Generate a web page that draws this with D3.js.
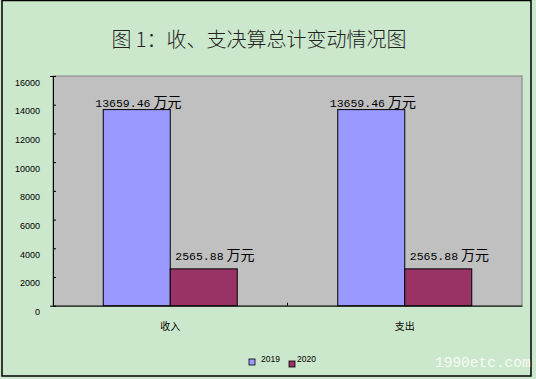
<!DOCTYPE html>
<html><head><meta charset="utf-8">
<script src="https://cdn.jsdelivr.net/npm/d3@7"></script>
<style>html,body{margin:0;padding:0;background:#CCE8CC;}svg{display:block;}</style>
</head><body>
<script>
const categories = ["收入", "支出"];
const seriesNames = ["2019", "2020"];
const values2019 = [13659.46, 13659.46];
const values2020 = [2565.88, 2565.88];
const yTicks = [0, 2000, 4000, 6000, 8000, 10000, 12000, 14000, 16000];
const titleText = "图 1：收、支决算总计变动情况图";
const unitText = "万元";
const watermark = "1990etc.com";

const W = 536, H = 379;
const colors = ["#9999FF", "#993366"];
const svg = d3.select("body").append("svg").attr("width", W).attr("height", H);

svg.append("rect").attr("x", 0).attr("y", 0).attr("width", W).attr("height", H).attr("fill", "#CCE8CC");
svg.append("rect").attr("x", 2).attr("y", 0.5).attr("width", 529).attr("height", 375.5)
  .attr("fill", "none").attr("stroke", "#000").attr("stroke-width", 1.5);

svg.append("text").attr("x", 259).attr("y", 47).attr("text-anchor", "middle")
  .attr("font-family", "Noto Sans CJK SC").attr("font-size", 20).attr("font-weight", 300)
  .attr("fill", "#222").text(titleText);

const plot = {l: 53, t: 76, r: 522, b: 305.7};
const x = d3.scaleBand().domain(categories).range([plot.l, plot.r]).paddingInner(0).paddingOuter(0);
const xs = d3.scaleBand().domain(seriesNames).range([0, x.bandwidth()]).paddingOuter(0.75).paddingInner(0);
const y = d3.scaleLinear().domain([0, 16000]).range([plot.b, plot.t]);

svg.append("rect").attr("x", plot.l).attr("y", plot.t).attr("width", plot.r - plot.l).attr("height", plot.b - plot.t)
  .attr("fill", "#C0C0C0").attr("stroke", "#808080").attr("stroke-width", 1);

// y axis
const yAxis = d3.axisLeft(y).tickValues(yTicks).tickSize(3).tickFormat("");
const ya = svg.append("g").attr("transform", `translate(${plot.l},0)`).call(yAxis);
ya.select(".domain").attr("stroke", "#000");
ya.selectAll(".tick line").attr("stroke", "#000").attr("x2", 3);
svg.append("g").selectAll("text").data(yTicks).join("text")
  .attr("x", 40).attr("y", d => y(d) + 9.5).attr("text-anchor", "end")
  .attr("font-family", "Liberation Sans, Arial").attr("font-size", 9).attr("fill", "#000")
  .text(d => d);

// x axis
const xAxis = d3.axisBottom(x).tickSize(0).tickFormat("");
const xa = svg.append("g").attr("transform", `translate(0,${plot.b})`).call(xAxis);
xa.select(".domain").attr("stroke", "#000");
svg.append("line").attr("x1", plot.l + x.bandwidth()).attr("x2", plot.l + x.bandwidth())
  .attr("y1", plot.b - 3).attr("y2", plot.b).attr("stroke", "#000");

const series = [values2019, values2020];
series.forEach((vals, si) => {
  svg.append("g").selectAll("rect").data(vals).join("rect")
    .attr("x", (d, i) => x(categories[i]) + xs(seriesNames[si]))
    .attr("y", d => y(d))
    .attr("width", xs.bandwidth())
    .attr("height", d => plot.b - y(d))
    .attr("fill", colors[si]).attr("stroke", "#000").attr("stroke-width", 1);
  const lbl = svg.append("g").selectAll("text").data(vals).join("text")
    .attr("x", (d, i) => x(categories[i]) + xs(seriesNames[si]) + (si === 0 ? -8 : 5))
    .attr("y", d => y(d) - (si === 0 ? 2.5 : 8.5))
    .attr("fill", "#000");
  lbl.append("tspan").attr("font-family", "Liberation Mono, monospace").attr("font-size", 11.5)
    .text(d => d.toFixed(2));
  lbl.append("tspan").attr("font-family", "Noto Sans CJK SC").attr("font-size", 14).attr("dx", 3)
    .text(unitText);
});

// category labels
svg.append("g").selectAll("text").data(categories).join("text")
  .attr("x", d => x(d) + x.bandwidth() / 2).attr("y", 330).attr("text-anchor", "middle")
  .attr("font-family", "Noto Sans CJK SC").attr("font-size", 10).attr("fill", "#000")
  .text(d => d);

// legend
const lg = svg.append("g");
const legX = [249, 289], legYo = [359, 361];
seriesNames.forEach((s, i) => {
  lg.append("rect").attr("x", legX[i]).attr("y", legYo[i]).attr("width", 6).attr("height", 6)
    .attr("fill", colors[i]).attr("stroke", "#000").attr("stroke-width", 0.8);
  lg.append("text").attr("x", legX[i] + 12 - (i ? 4 : 0)).attr("y", 362).attr("font-family", "Liberation Sans, Arial")
    .attr("font-size", 8.5).attr("fill", "#000").text(s);
});

svg.append("text").attr("x", 435).attr("y", 367).attr("font-family", "Liberation Mono, monospace")
  .attr("font-size", 14.5).attr("fill", "#FFFFFF").attr("fill-opacity", 0.85).text(watermark);
</script>
</body></html>
